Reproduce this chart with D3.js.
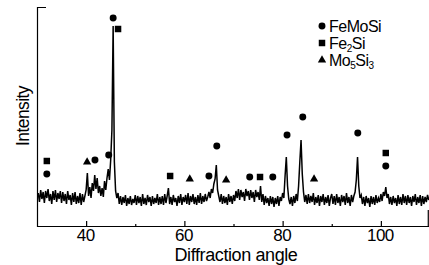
<!DOCTYPE html>
<meta charset="utf-8">
<style>
 body { margin: 0; background: #fff; }
 text {
  font-family: "Liberation Sans", Arial, Helvetica, sans-serif;
  fill: #000;
 }
 .axis path, .axis line { stroke: #000; stroke-width: 1.2; }
 .axis text { font-size: 17px; letter-spacing: -0.5px; }
 .trace { fill: none; stroke: #000; stroke-width: 1.5; stroke-linejoin: miter; }
</style>
<body>
<div id="chart"></div>
<script src="https://cdnjs.cloudflare.com/ajax/libs/d3/7.8.5/d3.min.js"></script>
<script>
// diffraction pattern, sampled every 0.25 deg from 30.25
var angleStart = 30.25, angleStep = 0.25;
var counts = [
  165, 120, 180, 135, 170, 115, 175, 140, 185, 125, 160, 110, 175, 130, 180, 120, 165, 135, 175, 115,
  170, 125, 160, 110, 175, 130, 155, 105, 165, 120, 170, 110, 150, 115, 165, 105, 160, 120, 150, 180,
  265, 150, 195, 140, 215, 175, 255, 185, 240, 165, 200, 150, 190, 145, 225, 180, 240, 285, 230, 330,
  480, 1000, 320, 175, 140, 165, 110, 150, 105, 145, 115, 155, 100, 140, 110, 150, 105, 135, 115, 155,
  105, 150, 115, 145, 100, 160, 110, 140, 105, 155, 120, 145, 100, 150, 110, 140, 115, 160, 105, 145,
  110, 150, 105, 160, 115, 150, 190, 110, 145, 105, 155, 120, 140, 100, 150, 115, 160, 105, 145, 120,
  155, 110, 165, 105, 150, 120, 160, 110, 145, 105, 155, 115, 165, 110, 150, 120, 160, 125, 145, 170,
  140, 185, 165, 210, 235, 305, 180, 150, 120, 160, 110, 150, 115, 145, 105, 160, 120, 150, 110, 155,
  125, 175, 140, 185, 130, 180, 145, 170, 125, 185, 150, 175, 130, 180, 140, 170, 120, 180, 145, 170,
  130, 200, 120, 160, 105, 150, 115, 140, 100, 150, 110, 145, 95, 140, 110, 150, 100, 145, 125, 165,
  140, 250, 345, 200, 135, 110, 145, 100, 150, 115, 160, 125, 200, 320, 430, 260, 170, 120, 155, 110,
  160, 115, 150, 120, 165, 105, 145, 115, 155, 100, 150, 120, 160, 105, 145, 115, 155, 100, 140, 160,
  110, 150, 105, 160, 115, 145, 100, 155, 120, 150, 105, 165, 115, 145, 100, 155, 120, 150, 170, 230,
  345, 200, 140, 155, 110, 145, 100, 150, 115, 140, 95, 150, 110, 145, 105, 155, 115, 140, 120, 160,
  125, 170, 150, 195, 140, 160, 110, 145, 105, 150, 115, 140, 100, 155, 110, 145, 105, 160, 115, 150,
  105, 155, 115, 145, 100, 150, 120, 160, 105, 145, 115, 155, 100, 150, 110, 145, 120, 155, 130
];

// phase markers: [angle, marker height]
var feMoSi = [[32.0, 260], [41.8, 330], [44.6, 355], [45.5, 1040], [65.0, 250], [66.6, 400],
  [73.3, 245], [78.0, 245], [80.9, 455], [84.1, 545], [95.3, 465], [101.0, 300]];
var fe2Si = [[32.0, 325], [46.5, 985], [57.1, 250], [75.4, 245], [101.0, 365]];
var mo5Si3 = [[40.2, 320], [61.1, 235], [68.5, 230], [86.4, 235]];

var xTicks = [40, 60, 80, 100];
var xMinor = [50, 70, 90];

(function(){
  var width = 429, height = 265;

  var svg = d3.select("#chart").append("svg")
      .attr("width", width)
      .attr("height", height);

  var x = d3.scaleLinear().domain([30, 110]).range([37, 430]);
  var y = d3.scaleLinear().domain([0, 1095]).range([226, 7]);

  var pts = counts.map(function(c, i) { return [angleStart + i * angleStep, c]; });

  // axes
  svg.append("g").attr("class", "axis")
      .attr("transform", "translate(0," + y(0) + ")")
      .call(d3.axisBottom(x).tickValues(xTicks).tickSizeInner(-5).tickSizeOuter(0).tickPadding(3))
      .call(function(g) { g.selectAll("text").attr("dx", "-1"); });

  svg.append("g").attr("class", "axis")
      .attr("transform", "translate(0," + y(0) + ")")
      .call(d3.axisBottom(x).tickValues(xMinor).tickSizeInner(-2).tickSizeOuter(0).tickFormat(""))
      .select(".domain").remove();

  svg.append("g").attr("class", "axis")
      .attr("transform", "translate(" + x(30) + ",0)")
      .call(d3.axisLeft(y).tickValues([]).tickSizeOuter(-9));

  svg.append("line")
      .attr("x1", x(109.65)).attr("x2", x(109.65))
      .attr("y1", y(0)).attr("y2", y(80))
      .attr("stroke", "#000").attr("stroke-width", 1.2);

  // trace
  svg.append("path")
      .datum(pts)
      .attr("class", "trace")
      .attr("d", d3.line().x(function(d) { return x(d[0]); }).y(function(d) { return y(d[1]); }));

  // markers
  var shapes = [
    {data: feMoSi, sym: d3.symbolCircle, size: 38},
    {data: fe2Si, sym: d3.symbolSquare, size: 42},
    {data: mo5Si3, sym: d3.symbolTriangle, size: 30}
  ];
  shapes.forEach(function(s) {
    svg.append("g").selectAll("path").data(s.data).enter().append("path")
        .attr("d", d3.symbol().type(s.sym).size(s.size))
        .attr("transform", function(d) { return "translate(" + x(d[0]) + "," + y(d[1]) + ")"; })
        .attr("fill", "#000");
  });

  // legend
  var legend = [
    {sym: d3.symbolCircle, size: 38, parts: [["FeMoSi", false]]},
    {sym: d3.symbolSquare, size: 42, parts: [["Fe", false], ["2", true], ["Si", false]]},
    {sym: d3.symbolTriangle, size: 30, parts: [["Mo", false], ["5", true], ["Si", false], ["3", true]]}
  ];
  var lg = svg.append("g").attr("transform", "translate(322,26)");
  legend.forEach(function(l, i) {
    var row = lg.append("g").attr("transform", "translate(0," + (i * 17) + ")");
    row.append("path").attr("d", d3.symbol().type(l.sym).size(l.size)).attr("fill", "#000");
    var t = row.append("text").attr("x", 7).attr("y", 6)
        .style("font-size", "16px").style("letter-spacing", "-0.5px");
    l.parts.forEach(function(p) {
      t.append("tspan")
          .attr("baseline-shift", p[1] ? "-25%" : null)
          .style("font-size", p[1] ? "10px" : null)
          .text(p[0]);
    });
  });

  // axis titles
  svg.append("text")
      .attr("x", 236).attr("y", 261)
      .attr("text-anchor", "middle")
      .style("font-size", "18px").style("letter-spacing", "-0.4px")
      .text("Diffraction angle");

  svg.append("text")
      .attr("transform", "translate(29,116) rotate(-90)")
      .attr("text-anchor", "middle")
      .style("font-size", "17.5px").style("letter-spacing", "-0.6px")
      .text("Intensity");
})();
</script>
</body>
